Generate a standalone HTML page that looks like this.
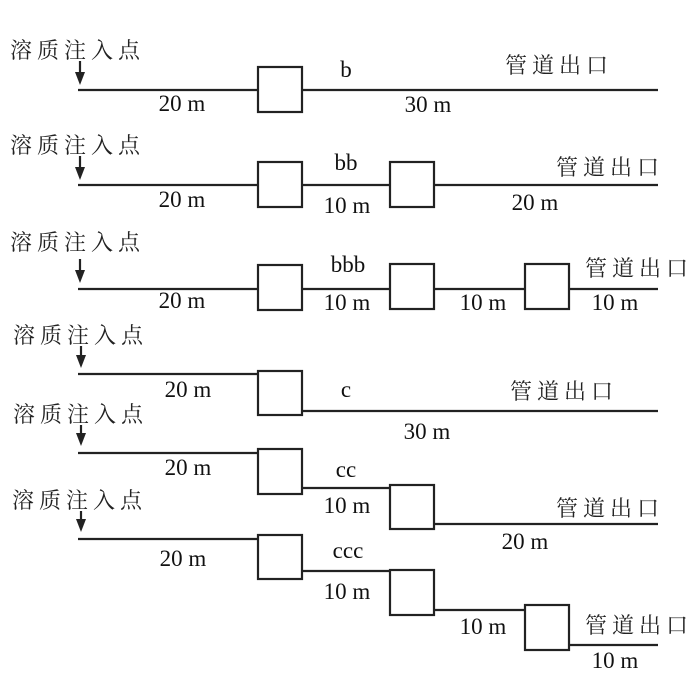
<!DOCTYPE html>
<html><head><meta charset="utf-8"><style>
html,body{margin:0;padding:0;background:#fff;}
svg{display:block;}
.cn{font-family:"Liberation Serif","Noto Serif CJK SC","Noto Sans CJK SC",serif;font-size:22px;letter-spacing:5px;fill:#222;}
.t{font-family:"Liberation Serif",serif;font-size:23px;fill:#111;text-anchor:middle;}
line{stroke:#222;stroke-width:2.2;}
rect{fill:#fff;stroke:#222;stroke-width:2.2;}
</style></head><body>
<svg width="700" height="700" viewBox="0 0 700 700" xmlns="http://www.w3.org/2000/svg">

<!-- Row 1 -->
<text class="cn" x="10" y="58">溶质注入点</text>
<line x1="80" y1="61" x2="80" y2="74"/><path d="M75,72 L85,72 L80,85 Z" fill="#222"/>
<line x1="78" y1="90" x2="258" y2="90"/>
<rect x="258" y="67" width="44" height="45"/>
<line x1="302" y1="90" x2="658" y2="90"/>
<text class="t" x="346" y="77">b</text>
<text class="t" x="182" y="111">20 m</text>
<text class="t" x="428" y="112">30 m</text>
<text class="cn" x="505" y="73">管道出口</text>

<!-- Row 2 -->
<text class="cn" x="10" y="153">溶质注入点</text>
<line x1="80" y1="156" x2="80" y2="169"/><path d="M75,167 L85,167 L80,180 Z" fill="#222"/>
<line x1="78" y1="185" x2="258" y2="185"/>
<rect x="258" y="162" width="44" height="45"/>
<line x1="302" y1="185" x2="390" y2="185"/>
<rect x="390" y="162" width="44" height="45"/>
<line x1="434" y1="185" x2="658" y2="185"/>
<text class="t" x="346" y="170">bb</text>
<text class="t" x="182" y="207">20 m</text>
<text class="t" x="347" y="213">10 m</text>
<text class="t" x="535" y="210">20 m</text>
<text class="cn" x="556" y="175">管道出口</text>

<!-- Row 3 -->
<text class="cn" x="10" y="250">溶质注入点</text>
<line x1="80" y1="259" x2="80" y2="272"/><path d="M75,270 L85,270 L80,283 Z" fill="#222"/>
<line x1="78" y1="289" x2="258" y2="289"/>
<rect x="258" y="265" width="44" height="45"/>
<line x1="302" y1="289" x2="390" y2="289"/>
<rect x="390" y="264" width="44" height="45"/>
<line x1="434" y1="289" x2="525" y2="289"/>
<rect x="525" y="264" width="44" height="45"/>
<line x1="569" y1="289" x2="658" y2="289"/>
<text class="t" x="348" y="272">bbb</text>
<text class="t" x="182" y="308">20 m</text>
<text class="t" x="347" y="310">10 m</text>
<text class="t" x="483" y="310">10 m</text>
<text class="t" x="615" y="310">10 m</text>
<text class="cn" x="585" y="276">管道出口</text>

<!-- Row 4 -->
<text class="cn" x="13" y="343">溶质注入点</text>
<line x1="81" y1="346" x2="81" y2="357"/><path d="M76,355 L86,355 L81,368 Z" fill="#222"/>
<line x1="78" y1="374" x2="258" y2="374"/>
<rect x="258" y="371" width="44" height="44"/>
<line x1="302" y1="411" x2="658" y2="411"/>
<text class="t" x="188" y="397">20 m</text>
<text class="t" x="346" y="397">c</text>
<text class="t" x="427" y="439">30 m</text>
<text class="cn" x="510" y="399">管道出口</text>

<!-- Row 5 -->
<text class="cn" x="13" y="422">溶质注入点</text>
<line x1="81" y1="425" x2="81" y2="435"/><path d="M76,433 L86,433 L81,446 Z" fill="#222"/>
<line x1="78" y1="453" x2="258" y2="453"/>
<rect x="258" y="449" width="44" height="45"/>
<line x1="302" y1="488" x2="390" y2="488"/>
<rect x="390" y="485" width="44" height="44"/>
<line x1="434" y1="524" x2="658" y2="524"/>
<text class="t" x="188" y="475">20 m</text>
<text class="t" x="346" y="477">cc</text>
<text class="t" x="347" y="513">10 m</text>
<text class="t" x="525" y="549">20 m</text>
<text class="cn" x="556" y="516">管道出口</text>

<!-- Row 6 -->
<text class="cn" x="12" y="508">溶质注入点</text>
<line x1="81" y1="511" x2="81" y2="521"/><path d="M76,519 L86,519 L81,532 Z" fill="#222"/>
<line x1="78" y1="539" x2="258" y2="539"/>
<rect x="258" y="535" width="44" height="44"/>
<line x1="302" y1="571" x2="390" y2="571"/>
<rect x="390" y="570" width="44" height="45"/>
<line x1="434" y1="610" x2="525" y2="610"/>
<rect x="525" y="605" width="44" height="45"/>
<line x1="569" y1="645" x2="658" y2="645"/>
<text class="t" x="183" y="566">20 m</text>
<text class="t" x="348" y="558">ccc</text>
<text class="t" x="347" y="599">10 m</text>
<text class="t" x="483" y="634">10 m</text>
<text class="t" x="615" y="668">10 m</text>
<text class="cn" x="585" y="633">管道出口</text>
</svg>
</body></html>
